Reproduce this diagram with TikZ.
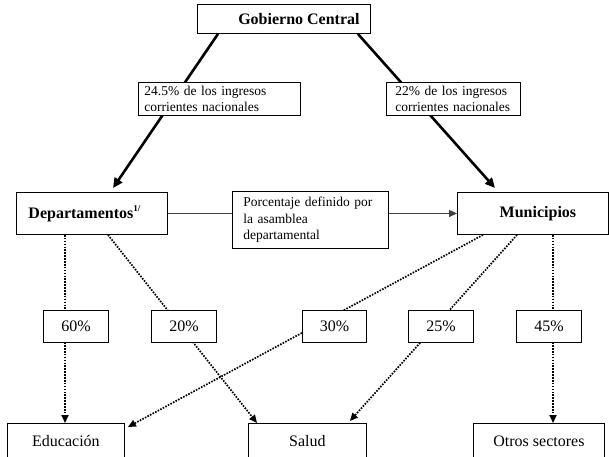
\documentclass[tikz,border=0pt]{standalone}
\usepackage{fontspec}
\setmainfont{Liberation Serif}
\usetikzlibrary{arrows.meta,backgrounds}
\begin{document}
\begin{tikzpicture}[x=1pt,y=-1pt,
  box/.style={draw=black, line width=0.9pt, fill=white, inner sep=0pt, anchor=north west, align=center},
  lbox/.style={draw=black, line width=0.9pt, fill=white, inner ysep=0pt, anchor=north west, align=left, font=\fontsize{13.5}{16.5}\selectfont},
  big/.style={font=\fontsize{16}{19}\selectfont},
  bigb/.style={font=\fontsize{16}{19}\selectfont\bfseries},
  thickarrow/.style={line width=2.6pt, -{Triangle[length=10pt,width=9pt]}},
  dotline/.style={line width=1.7pt, dash pattern=on 1.6pt off 1.3pt, -{Triangle[length=8pt,width=7pt]}},
  plainline/.style={line width=1pt, draw=black!75}
]
\useasboundingbox (0,0) rectangle (609,456);

\node[box,bigb,minimum width=173pt,minimum height=29pt] (gob) at (197,4) {\hspace*{30pt}Gobierno Central};
\node[lbox,text width=150pt,inner xsep=6pt,minimum height=33pt] (lab1) at (138,82) {24.5\% de los ingresos\\corrientes nacionales};
\node[lbox,text width=116pt,inner xsep=9pt,minimum height=33pt] (lab2) at (386,82) {22\% de los ingresos\\corrientes nacionales};

\node[box,bigb,align=left,text width=127pt,inner xsep=12pt,minimum height=42pt] (dep) at (16,192) {Departamentos\raisebox{7pt}{\fontsize{9}{9}\selectfont 1/}};
\node[lbox,text width=134pt,inner xsep=11pt,minimum height=57pt] (por) at (232,191) {Porcentaje definido por\\la asamblea\\departamental};
\node[box,bigb,minimum width=151pt,minimum height=42pt] (mun) at (457,192) {\hspace*{10pt}Municipios};

\node[box,big,minimum width=65pt,minimum height=32pt] (p60) at (43,310) {60\%};
\node[box,big,minimum width=65pt,minimum height=32pt] (p20) at (151,310) {20\%};
\node[box,big,minimum width=64pt,minimum height=32pt] (p30) at (302,310) {30\%};
\node[box,big,minimum width=65pt,minimum height=32pt] (p25) at (408,310) {25\%};
\node[box,big,minimum width=65pt,minimum height=32pt] (p45) at (516,310) {45\%};

\node[box,big,minimum width=117pt,minimum height=35pt] (edu) at (7,423) {Educación};
\node[box,big,minimum width=118pt,minimum height=35pt] (sal) at (248,423) {Salud};
\node[box,big,minimum width=131pt,minimum height=35pt] (otr) at (473,423) {Otros sectores};

\begin{scope}[on background layer]
  \draw[thickarrow] ([xshift=21pt]gob.south west) -- ([xshift=97pt,yshift=4pt]dep.north west);
  \draw[thickarrow] ([xshift=-13pt]gob.south east) -- ([xshift=38pt,yshift=4pt]mun.north west);

  \draw[plainline] (dep.east) -- (dep.east -| por.west);
  \draw[plainline,-{Triangle[length=8pt,width=7pt]}] (por.east |- mun.west) -- (mun.west);

  \draw[dotline] ([xshift=49pt]dep.south west) -- ([xshift=58pt]edu.north west);
  \draw[dotline] ([xshift=92pt]dep.south west) -- ([xshift=9pt]sal.north west);
  \draw[dotline] ([xshift=26pt]mun.south west) -- ([xshift=3pt,yshift=-4pt]edu.north east);
  \draw[dotline] ([xshift=60pt]mun.south west) -- ([xshift=-17pt,yshift=2pt]sal.north east);
  \draw[dotline] ([xshift=96pt]mun.south west) -- ([xshift=80pt]otr.north west);
\end{scope}
\end{tikzpicture}
\end{document}
